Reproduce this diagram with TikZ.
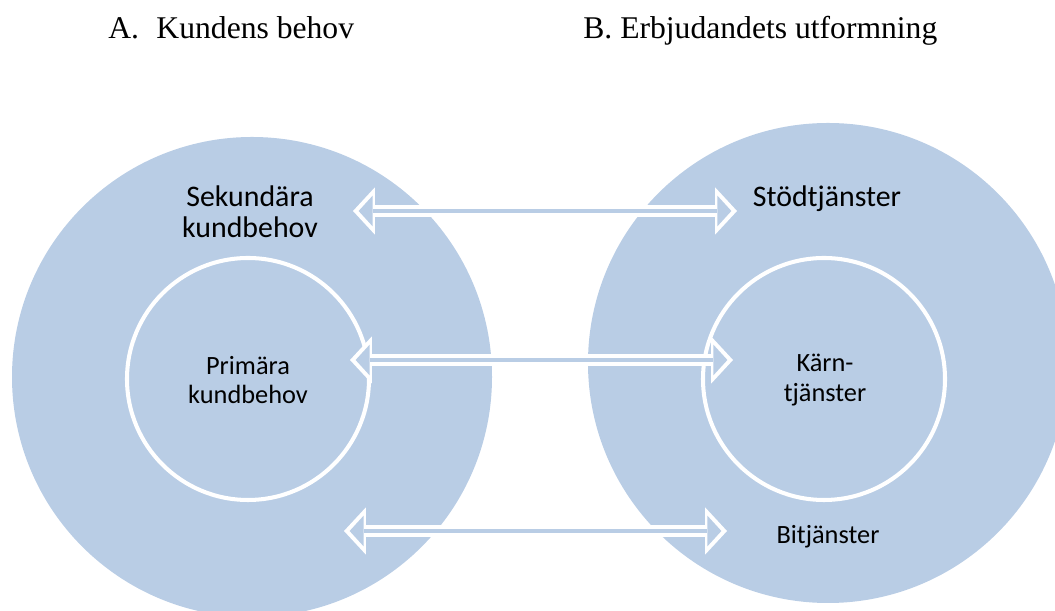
\documentclass[tikz,border=0pt]{standalone}
\usepackage{fontspec}
\setmainfont{Liberation Serif}
\newfontfamily\calibri{Carlito}
\usetikzlibrary{arrows.meta}
\definecolor{ringblue}{HTML}{B9CDE5}
\tikzset{
  ring/.style={fill=ringblue},
  core/.style={fill=ringblue, draw=white, line width=2.3pt},
  label/.style={font=\calibri\fontsize{17pt}{17.6pt}\selectfont, align=center, inner sep=0pt},
  small/.style={font=\calibri\fontsize{15pt}{17pt}\selectfont, align=center, inner sep=0pt},
  title/.style={font=\fontsize{18pt}{20pt}\selectfont, anchor=base west, inner sep=0pt},
  link/.style={
    preaction={draw=white, line width=6.4pt, shorten <=0pt, shorten >=0pt,
      {Triangle[width=27pt,length=12.5pt,line width=0pt]}-{Triangle[width=27pt,length=12.5pt,line width=0pt]}},
    draw=ringblue, line width=2.2pt, shorten <=3.2pt, shorten >=3.2pt,
    {Triangle[width=17.5pt,length=8pt,line width=0pt]}-{Triangle[width=17.5pt,length=8pt,line width=0pt]}},
}
\begin{document}
\begin{tikzpicture}[x=0.02cm, y=0.02cm]
  \clip (0,0) rectangle (1055,611);

  % Titles
  \node[title] (ta) at (108,572) {A.\hspace{0.55em}Kundens behov};
  \node[title] (tb) at (583,572) {B. Erbjudandets utformning};

  % Customer needs
  \fill[ring] (252,234) circle (240);
  \draw[core] (248,232) circle (121);
  \node[label] (sek) at (250,399) {Sekundära\\kundbehov};
  \node[small] (prim) at (248,231) {Primära\\kundbehov};

  % Offer
  \fill[ring] (828,248) circle (240);
  \draw[core] (824,232) circle (121);
  \node[label, anchor=base] (stod) at (827,404) {Stödtjänster};
  \node[small] (karn) at (825,231) {Kärn-\\tjänster};
  \node[small, anchor=base] (bi) at (828,67) {Bitjänster};

  % Links between the two sides
  \coordinate (l1) at (353,400);
  \coordinate (r1) at (737,400);
  \coordinate (l2) at (350,251);
  \coordinate (r2) at (733,251);
  \coordinate (l3) at (344,80);
  \coordinate (r3) at (727,80);
  \draw[link] (l1) -- (r1);
  \draw[link] (l2) -- (r2);
  \draw[link] (l3) -- (r3);
\end{tikzpicture}
\end{document}
